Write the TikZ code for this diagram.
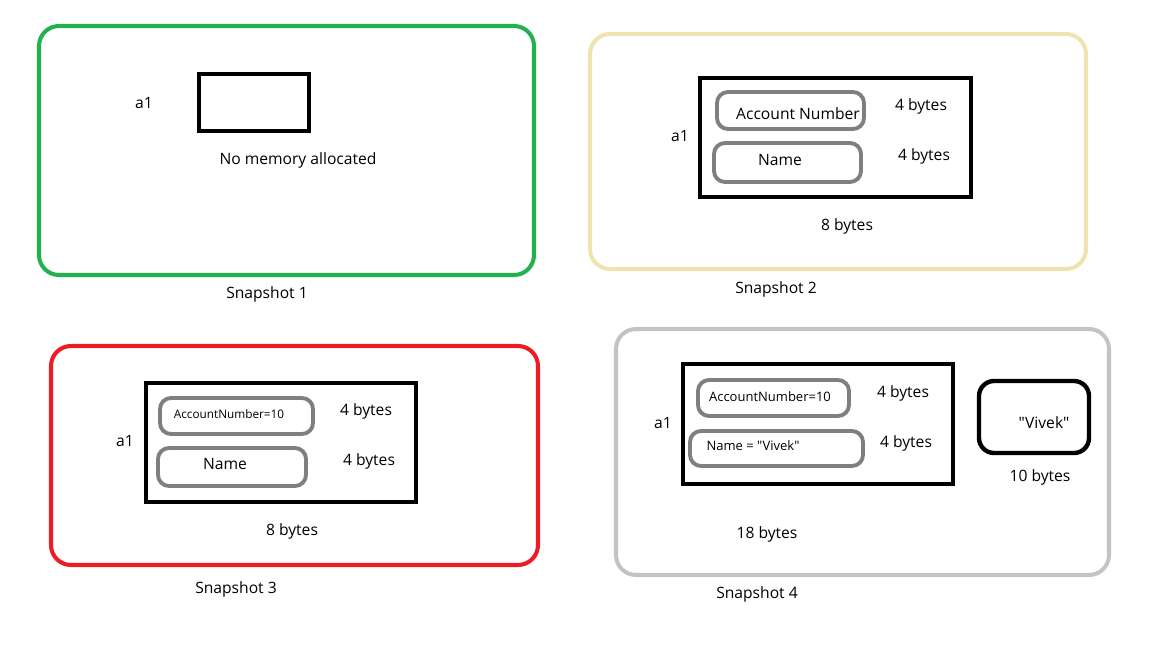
\documentclass[tikz,border=0pt]{standalone}
\usepackage{fontspec}
\setmainfont{Open Sans}
\newfontfamily\quotefont{Open Sans}
\definecolor{snapgreen}{RGB}{34,177,76}
\definecolor{snapsand}{RGB}{239,228,176}
\definecolor{snapred}{RGB}{237,28,36}
\definecolor{snapgray}{RGB}{195,195,195}
\definecolor{fieldgray}{RGB}{127,127,127}

\begin{document}
\begin{tikzpicture}[x=0.02cm, y=-0.02cm,
    frame/.style={line width=2.3pt, rounded corners=0.4cm},
    block/.style={line width=2.5pt},
    field/.style={draw=fieldgray, line width=2.2pt, rounded corners=0.22cm},
    lbl/.style={font=\fontsize{8.9}{10}\selectfont, inner sep=0pt, yshift=-1pt},
    small/.style={font=\fontsize{6.7}{8}\selectfont, inner sep=0pt, yshift=-0.5pt},
    smaller/.style={font=\fontsize{7.4}{9}\selectfont, inner sep=0pt, yshift=-0.5pt}]

    \useasboundingbox (0,0) rectangle (1152,648);

    % snapshot 1
    \draw[frame, draw=snapgreen] (39,26) rectangle (534,275);
    \draw[block] (199,74) rectangle (309,131);
    \node[lbl] (aone) at (144,101) {a1};
    \node[lbl] (nomem) at (298,159) {No memory allocated};
    \node[lbl] (snapone) at (267,293) {Snapshot 1};

    % snapshot 2
    \draw[frame, draw=snapsand] (590,34) rectangle (1086,269);
    \draw[block] (700,78) rectangle (971,197);
    \draw[field] (717,92) rectangle (864,129);
    \draw[field] (714,143) rectangle (861,182);
    \node[lbl] (atwo) at (680,134) {a1};
    \node[lbl] (acctwo) at (798,112) {Account Number};
    \node[lbl] (nametwo) at (780,158) {Name};
    \node[lbl] (sizeacctwo) at (921,105) {4 bytes};
    \node[lbl] (sizenametwo) at (924,155) {4 bytes};
    \node[lbl] (totaltwo) at (847,225) {8 bytes};
    \node[lbl] (snaptwo) at (776,288) {Snapshot 2};

    % snapshot 3
    \draw[frame, draw=snapred] (51,346) rectangle (538,565);
    \draw[block] (146,383) rectangle (416,502);
    \draw[field] (160,398) rectangle (313,434);
    \draw[field] (158,448) rectangle (306,486);
    \node[lbl] (athree) at (125,439) {a1};
    \node[small] (accthree) at (229,413) {AccountNumber=10};
    \node[lbl] (namethree) at (225,462) {Name};
    \node[lbl] (sizeaccthree) at (366,410) {4 bytes};
    \node[lbl] (sizenamethree) at (369,460) {4 bytes};
    \node[lbl] (totalthree) at (292,530) {8 bytes};
    \node[lbl] (snapthree) at (236,588) {Snapshot 3};

    % snapshot 4
    \draw[frame, draw=snapgray] (616,329) rectangle (1109,575);
    \draw[block] (683,364) rectangle (953,484);
    \draw[field] (698,380) rectangle (849,416);
    \draw[field] (690,431) rectangle (863,466);
    \draw[block, rounded corners=0.3cm] (979,381) rectangle (1089,453);
    \node[lbl] (afour) at (663,421) {a1};
    \node[smaller] (accfour) at (770,396) {AccountNumber=10};
    \node[smaller] (namefour) at (753,445) {\quotefont Name = "Vivek"};
    \node[lbl] (sizeaccfour) at (903,392) {4 bytes};
    \node[lbl] (sizenamefour) at (906,442) {4 bytes};
    \node[lbl] (heapfour) at (1044,421) {\quotefont "Vivek"};
    \node[lbl] (sizeheapfour) at (1040,476) {10 bytes};
    \node[lbl] (totalfour) at (767,533) {18 bytes};
    \node[lbl] (snapfour) at (757,593) {Snapshot 4};

\end{tikzpicture}
\end{document}
